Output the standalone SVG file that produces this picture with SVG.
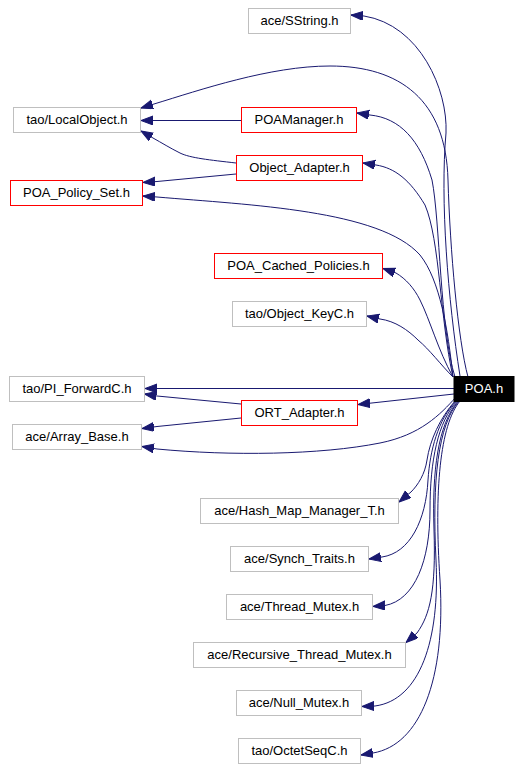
<svg xmlns="http://www.w3.org/2000/svg" width="522" height="770" viewBox="0 0 522 770">
<style>
.n rect{fill:#ffffff;stroke:#bfbfbf;stroke-width:1}
.n.r rect{stroke:#ff0000}
.n.cur rect{fill:#000000;stroke:#000000}
.n text{font-family:"Liberation Sans",Arial,Helvetica,sans-serif;font-size:13px;text-anchor:middle;fill:#000000}
.n.cur text{fill:#ffffff}
.e path{fill:none;stroke:#191970;stroke-width:1;marker-end:url(#ah)}
</style>
<defs>
<marker id="ah" markerUnits="userSpaceOnUse" markerWidth="14" markerHeight="10" refX="12" refY="4.5" orient="auto">
<path d="M0,0 L12,4.5 L0,9 z" fill="#191970" stroke="#191970" stroke-width="1"/>
</marker>
</defs>
<rect width="522" height="770" fill="#ffffff"/>
<g id="edges" class="e">
<path d="M460,376 C448,300 440,200 446,133 C448,90 420,25 364,16 L351,15"/>
<path d="M468,377 C458,340 450,250 448,180 C446,100 400,66 330,66 C270,66 200,90 154,104 L141,108"/>
<path d="M455,377 C440,330 440,220 432,180 C420,140 400,118 370,115 L357,113"/>
<path d="M453,377 C440,320 440,240 425,205 C410,180 395,168 376,165 L363,163"/>
<path d="M453,377 C448,330 440,280 420,255 C380,210 250,205 157,197 L143,196"/>
<path d="M453,377 C438,350 430,320 420,300 C414,288 406,279 396,273 L383,268.5"/>
<path d="M453,377 C440,364 430,350 418,340 C408,330 395,321 380,319 L367,316"/>
<path d="M454,388.5 L145,388.5"/>
<path d="M454,394 L358,404.5"/>
<path d="M241,404 L157,396 L144.5,394"/>
<path d="M241,418 L157,426.5 L142,428.5"/>
<path d="M456,397 C440,415 420,435 380,443 C320,455 230,456 157,449 L142,446.5"/>
<path d="M241,120.5 L141,120.5"/>
<path d="M236,163 C210,160 190,158 180,153 C170,148 162,143 153,138 L141,131"/>
<path d="M236,174 L157,181.5 L143,182.5"/>
<path d="M455,401 C440,418 430,440 427,460 C425,474 418,485 411,492 L399,502"/>
<path d="M456,401 C438,420 430,450 428,480 C426,520 410,553 382,557 L369,559"/>
<path d="M457,401 C438,422 430,460 430,510 C430,560 415,600 385,605.5 L373,606.5"/>
<path d="M458,401 C438,425 432,470 434,530 C436,590 430,615 417,633 L406,642.5"/>
<path d="M459,401 C438,425 432,480 436,560 C440,640 420,700 375,706 L362,706.5"/>
<path d="M460,401 C440,425 434,490 440,580 C446,680 420,745 373,753 L361,755"/>
</g>
<g id="n_sstring" class="n"><rect x="248.5" y="8.5" width="102" height="25"/><text x="299.5" y="25">ace/SString.h</text></g>
<g id="n_localobject" class="n"><rect x="13.5" y="107.5" width="127" height="25"/><text x="77" y="124">tao/LocalObject.h</text></g>
<g id="n_poamanager" class="n r"><rect x="241.5" y="107.5" width="115" height="25"/><text x="299" y="124">POAManager.h</text></g>
<g id="n_object_adapter" class="n r"><rect x="236.5" y="155.5" width="126" height="25"/><text x="299.5" y="172">Object_Adapter.h</text></g>
<g id="n_poa_policy_set" class="n r"><rect x="10.5" y="180.5" width="132" height="25"/><text x="76.5" y="197">POA_Policy_Set.h</text></g>
<g id="n_poa_cached_policies" class="n r"><rect x="214.5" y="253.5" width="168" height="25"/><text x="298.5" y="270">POA_Cached_Policies.h</text></g>
<g id="n_object_keyc" class="n"><rect x="232.5" y="301.5" width="134" height="25"/><text x="299.5" y="318">tao/Object_KeyC.h</text></g>
<g id="n_pi_forwardc" class="n"><rect x="9.5" y="376.5" width="135" height="25"/><text x="77" y="393">tao/PI_ForwardC.h</text></g>
<g id="n_poa" class="n cur"><rect x="454" y="376.5" width="60" height="25"/><text x="484" y="393">POA.h</text></g>
<g id="n_ort_adapter" class="n r"><rect x="241.5" y="400.5" width="116" height="25"/><text x="299.5" y="417">ORT_Adapter.h</text></g>
<g id="n_array_base" class="n"><rect x="12.5" y="424.5" width="129" height="25"/><text x="77" y="441">ace/Array_Base.h</text></g>
<g id="n_hash_map" class="n"><rect x="200.5" y="498.5" width="198" height="25"/><text x="299.5" y="515">ace/Hash_Map_Manager_T.h</text></g>
<g id="n_synch_traits" class="n"><rect x="230.5" y="546.5" width="138" height="25"/><text x="299.5" y="563">ace/Synch_Traits.h</text></g>
<g id="n_thread_mutex" class="n"><rect x="226.5" y="594.5" width="146" height="25"/><text x="299.5" y="611">ace/Thread_Mutex.h</text></g>
<g id="n_recursive" class="n"><rect x="193.5" y="642.5" width="212" height="25"/><text x="299.5" y="659">ace/Recursive_Thread_Mutex.h</text></g>
<g id="n_null_mutex" class="n"><rect x="236.5" y="690.5" width="125" height="25"/><text x="299" y="707">ace/Null_Mutex.h</text></g>
<g id="n_octetseqc" class="n"><rect x="238.5" y="738.5" width="122" height="25"/><text x="299.5" y="755">tao/OctetSeqC.h</text></g>
</svg>
